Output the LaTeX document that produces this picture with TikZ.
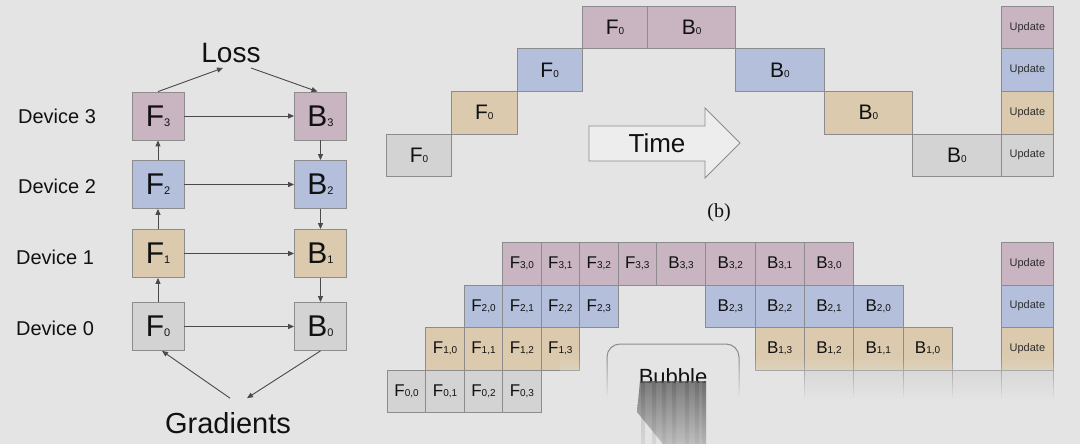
\documentclass[tikz,border=0pt]{standalone}
\usepackage{fontspec}
\setmainfont{Liberation Sans}
\newfontfamily\capfont{Liberation Serif}
\usetikzlibrary{arrows.meta,fadings,positioning}

\definecolor{bgcol}{HTML}{E4E4E4}
\definecolor{dthree}{HTML}{C8B5C1}
\definecolor{dtwo}{HTML}{B3BFDB}
\definecolor{done}{HTML}{DBCAAE}
\definecolor{dzero}{HTML}{D3D3D3}
\definecolor{edgecol}{HTML}{8C8C8C}
\definecolor{arrcol}{HTML}{4A4A4A}
\definecolor{txtcol}{HTML}{111111}
\definecolor{updcol}{HTML}{2E2E2E}
\definecolor{timefill}{HTML}{EDEDED}

\newcommand{\lblA}[2]{{\fontsize{30}{30}\selectfont #1}{\fontsize{11}{11}\selectfont #2}}
\newcommand{\lblB}[2]{{\fontsize{21}{21}\selectfont #1}{\fontsize{10}{10}\selectfont #2}}
\newcommand{\lblC}[2]{{\fontsize{17}{17}\selectfont #1}{\fontsize{10}{10}\selectfont #2}}

\tikzset{
  blk/.style={draw=edgecol, line width=0.8pt, inner sep=0pt, text=txtcol},
  stage/.style={blk, minimum width=52pt, minimum height=48pt},
  slot/.style={blk, anchor=north west, minimum height=42.5pt},
  upd/.style={blk, anchor=north west, minimum width=52pt, minimum height=42.5pt,
    font=\fontsize{11}{11}\selectfont, text=updcol},
  dev/.style={font=\fontsize{20}{20}\selectfont, text=txtcol},
  flow/.style={draw=arrcol, line width=0.9pt, -{Triangle[length=6pt,width=5pt]}},
}

\begin{document}
\begin{tikzpicture}[x=1pt,y=-1pt]
            \fill[bgcol] (0,0) rectangle (1080,444);
            \useasboundingbox (0,0) rectangle (1080,444);
            % naive model parallelism
            \node[stage, fill=dthree] (F3) at (158,116) {\lblA{F}{3}};
            \node[stage, fill=dtwo] (F2) at (158,184.5) {\lblA{F}{2}};
            \node[stage, fill=done] (F1) at (158,253.5) {\lblA{F}{1}};
            \node[stage, fill=dzero] (F0) at (158,326.5) {\lblA{F}{0}};
            \node[stage, fill=dthree] (B3) at (320.5,116) {\lblA{B}{3}};
            \node[stage, fill=dtwo] (B2) at (320.5,184.5) {\lblA{B}{2}};
            \node[stage, fill=done] (B1) at (320.5,253.5) {\lblA{B}{1}};
            \node[stage, fill=dzero] (B0) at (320.5,326.5) {\lblA{B}{0}};
            \node[dev] (dev3) at (57,116) {Device 3};
            \node[dev] (dev2) at (57,186) {Device 2};
            \node[dev] (dev1) at (55,257) {Device 1};
            \node[dev] (dev0) at (55,328) {Device 0};
            \node[font=\fontsize{28}{28}\selectfont, text=txtcol, inner ysep=5pt] (loss) at (231,53) {Loss};
            \node[font=\fontsize{29}{29}\selectfont, text=txtcol, inner ysep=14pt] (grad) at (228,423) {Gradients};
            \draw[flow] (F0) -- (F1);
            \draw[flow] (F1) -- (F2);
            \draw[flow] (F2) -- (F3);
            \draw[flow] (B3) -- (B2);
            \draw[flow] (B2) -- (B1);
            \draw[flow] (B1) -- (B0);
            \foreach \d in {0,...,3}
                \draw[flow] (F\d) -- (B\d);
            \draw[flow] (F3.north) -- ([xshift=-8pt]loss.south);
            \draw[flow] ([xshift=20pt]loss.south) -- ([xshift=-3pt]B3.north);
            \draw[flow] ([xshift=2pt]grad.north) -- ([xshift=4pt]F0.south);
            \draw[flow] (B0.south) -- ([xshift=19pt]grad.north);
            % (b): one batch
            \foreach \d/\c in {0/dzero,1/done,2/dtwo,3/dthree}{
                \pgfmathsetmacro{\rowtop}{176-42.5*(\d+1)}
                \node[slot, fill=\c, minimum width=65.3pt] (pf\d) at ({386+65.3*\d},\rowtop) {\lblB{F}{0}};
                \node[slot, fill=\c, minimum width=88.4pt] (pb\d) at ({647+88.4*(3-\d)},\rowtop) {\lblB{B}{0}};
                \node[upd, fill=\c] (pu\d) at (1001,\rowtop) {Update};
            }
            \draw[edgecol, fill=timefill, line width=0.8pt] (589,126) -- (705,126) -- (705,108)
                -- (740,143) -- (705,178) -- (705,161) -- (589,161) -- cycle;
            \node[font=\fontsize{26}{26}\selectfont, text=txtcol] (time) at (657,143) {Time};
            \node[font=\capfont\fontsize{20}{20}\selectfont, text=txtcol] (cap) at (719,213) {(b)};
            % micro-batches
            \foreach \d/\c in {0/dzero,1/done,2/dtwo,3/dthree}{
                \pgfmathsetmacro{\rowtop}{412-42.5*(\d+1)}
                \foreach \m in {0,...,3}
                    \node[slot, fill=\c, minimum width=38.43pt] (f\d\m) at ({387+38.43*(\d+\m)},\rowtop) {\lblC{F}{\d,\m}};
            }
            \foreach \d/\c in {1/done,2/dtwo,3/dthree}{
                \pgfmathsetmacro{\rowtop}{412-42.5*(\d+1)}
                \foreach \m in {0,...,3}
                    \node[slot, fill=\c, minimum width=49.3pt] (b\d\m) at ({656+49.3*(6-\d-\m)},\rowtop) {\lblC{B}{\d,\m}};
                \node[upd, fill=\c] (u\d) at (1001,\rowtop) {Update};
            }
            \foreach \m in {0,...,3}
                \node[slot, fill=dzero, minimum width=49.3pt] (b0\m) at ({656+49.3*(6-\m)},369.5) {};
            \node[upd, fill=dzero] (u0) at (1001,369.5) {};
            \draw[edgecol, line width=1pt, rounded corners=13pt] (607,395) -- (607,344) -- (739,344) -- (739,395);
            % washed-out bottom
            \fill[bgcol, path fading=north] (560,356) rectangle (1080,400);
            \fill[bgcol] (560,399) rectangle (1080,444);
            \begin{scope}
                \clip (600,350) rectangle (745,382);
                \node[font=\fontsize{22}{22}\selectfont, text=txtcol] (bubble) at (673,377) {Bubble};
            \end{scope}
            \shade[top color=black!65, bottom color=black!30, opacity=0.75]
                (640,381) -- (706,381) -- (706,444) -- (663,444) -- (637,412) -- cycle;
            \foreach \sx in {641,652,662,672,685,695,702}
                \shade[top color=black!80, bottom color=black!40, opacity=0.2] (\sx,381) rectangle ++(4,63);
\end{tikzpicture}
\end{document}
